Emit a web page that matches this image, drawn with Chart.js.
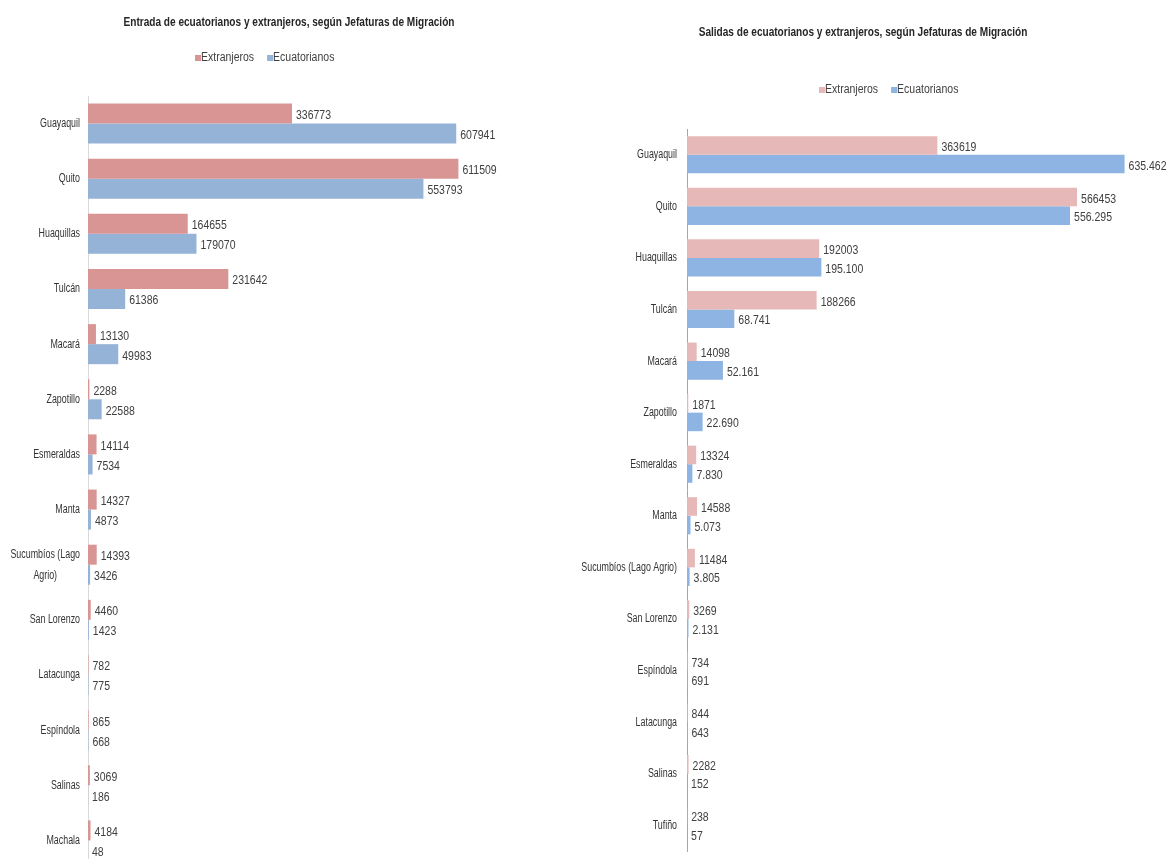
<!DOCTYPE html>
<html lang="es">
<head>
    <meta charset="UTF-8">
    <title>Entradas y salidas por Jefatura de Migración</title>
    <script src="https://cdn.jsdelivr.net/npm/chart.js"></script>
    <style>
        html, body { margin: 0; padding: 0; background: #fff; overflow: hidden; }
        canvas { position: absolute; top: 0; }
        #entradaChart { left: 0; }
        #salidaChart { left: 570px; }
    </style>
</head>
<body>
    <canvas id="entradaChart" width="585" height="870"></canvas>
    <canvas id="salidaChart" width="603" height="870"></canvas>
    <script>
        // Entradas
        var entradaLabels = ['Guayaquil', 'Quito', 'Huaquillas', 'Tulcán', 'Macará', 'Zapotillo', 'Esmeraldas', 'Manta',
            ['Sucumbíos (Lago', 'Agrio)'], 'San Lorenzo', 'Latacunga', 'Espíndola', 'Salinas', 'Machala'];
        var entradaExtranjeros = [336773, 611509, 164655, 231642, 13130, 2288, 14114, 14327, 14393, 4460, 782, 865, 3069, 4184];
        var entradaEcuatorianos = [607941, 553793, 179070, 61386, 49983, 22588, 7534, 4873, 3426, 1423, 775, 668, 186, 48];

        // Salidas
        var salidaLabels = ['Guayaquil', 'Quito', 'Huaquillas', 'Tulcán', 'Macará', 'Zapotillo', 'Esmeraldas', 'Manta',
            'Sucumbíos (Lago Agrio)', 'San Lorenzo', 'Espíndola', 'Latacunga', 'Salinas', 'Tufiño'];
        var salidaExtranjeros = [363619, 566453, 192003, 188266, 14098, 1871, 13324, 14588, 11484, 3269, 734, 844, 2282, 238];
        var salidaEcuatorianos = [635462, 556295, 195100, 68741, 52161, 22690, 7830, 5073, 3805, 2131, 691, 643, 152, 57];

        var xMax = 700000;
        var FONT = '"Liberation Sans", Arial, sans-serif';

        function plain(v) { return String(v); }
        function dotted(v) { return String(v).replace(/\B(?=(\d{3})+(?!\d))/g, '.'); }

        // narrow lettering: normal font squeezed horizontally
        function squeezeText(ctx, text, x, y, sx, align) {
            ctx.save();
            ctx.translate(x, y);
            ctx.scale(sx, 1);
            ctx.textAlign = align;
            ctx.fillText(text, 0, 0);
            ctx.restore();
        }

        // title, legend, category and value labels drawn straight on the canvas
        function decorations(cfg) {
            return {
                id: 'decorations',
                afterDatasetsDraw: function (chart) {
                    var ctx = chart.ctx;
                    ctx.save();
                    ctx.fillStyle = '#404040';
                    ctx.textBaseline = 'middle';

                    // value labels
                    ctx.font = '12.5px ' + FONT;
                    chart.data.datasets.forEach(function (ds, i) {
                        chart.getDatasetMeta(i).data.forEach(function (bar, j) {
                            squeezeText(ctx, cfg.formats[i](ds.data[j]), bar.x + 4, bar.y + 2, 0.84, 'left');
                        });
                    });

                    // category labels
                    var yScale = chart.scales.y;
                    var right = chart.chartArea.left - cfg.labelGap;
                    var sx = 0.71;
                    ctx.fillStyle = '#333333';
                    ctx.font = '12.5px ' + FONT;
                    chart.data.labels.forEach(function (label, i) {
                        var y = yScale.getPixelForTick(i);
                        if (Array.isArray(label)) {
                            var w = Math.max.apply(null, label.map(function (l) { return ctx.measureText(l).width; })) * sx;
                            label.forEach(function (line, k) {
                                squeezeText(ctx, line, right - w / 2, y + (k - (label.length - 1) / 2) * 21, sx, 'center');
                            });
                        } else {
                            squeezeText(ctx, label, right, y, sx, 'right');
                        }
                    });
                    ctx.restore();
                },
                afterDraw: function (chart) {
                    var ctx = chart.ctx;
                    ctx.save();
                    ctx.textBaseline = 'middle';
                    ctx.fillStyle = '#262626';
                    ctx.font = 'bold 13px ' + FONT;
                    squeezeText(ctx, cfg.title, cfg.titleX, cfg.titleY, 0.775, 'center');

                    ctx.font = '12.5px ' + FONT;
                    var x = cfg.legendX;
                    chart.data.datasets.forEach(function (ds) {
                        ctx.fillStyle = ds.backgroundColor;
                        ctx.fillRect(x, cfg.legendY - 3, 6, 6);
                        ctx.fillStyle = '#404040';
                        squeezeText(ctx, ds.label, x + 6, cfg.legendY, 0.84, 'left');
                        x += 6 + ctx.measureText(ds.label).width * 0.84 + 13;
                    });
                    ctx.restore();
                }
            };
        }

        function makeChart(id, cfg) {
            return new Chart(document.getElementById(id), {
                type: 'bar',
                data: {
                    labels: cfg.labels,
                    datasets: [
                        { label: 'Extranjeros', data: cfg.ext, backgroundColor: cfg.colors[0] },
                        { label: 'Ecuatorianos', data: cfg.ecu, backgroundColor: cfg.colors[1] }
                    ]
                },
                options: {
                    indexAxis: 'y',
                    responsive: false,
                    animation: false,
                    categoryPercentage: cfg.catPct,
                    barPercentage: 1.0,
                    layout: { padding: cfg.padding },
                    plugins: {
                        legend: { display: false },
                        title: { display: false },
                        tooltip: { enabled: false }
                    },
                    scales: {
                        x: { display: false, min: 0, max: xMax },
                        y: {
                            afterFit: function (scale) { scale.width = cfg.axisWidth; },
                            grid: { display: false, drawTicks: false },
                            border: { display: true, color: cfg.axisColor, width: 1 },
                            ticks: { display: false }
                        }
                    }
                },
                plugins: [decorations(cfg)]
            });
        }

        makeChart('entradaChart', {
            labels: entradaLabels,
            ext: entradaExtranjeros,
            ecu: entradaEcuatorianos,
            colors: ['#d99594', '#95b3d7'],
            formats: [plain, plain],
            catPct: 0.726,
            axisWidth: 88,
            axisColor: '#d9d9d9',
            labelGap: 8,
            padding: { left: 0, right: 73, top: 96, bottom: 2 },
            title: 'Entrada de ecuatorianos y extranjeros, según Jefaturas de Migración',
            titleX: 289, titleY: 22,
            legendX: 195, legendY: 58
        });

        makeChart('salidaChart', {
            labels: salidaLabels,
            ext: salidaExtranjeros,
            ecu: salidaEcuatorianos,
            colors: ['#e6b9b8', '#8db4e2'],
            formats: [plain, dotted],
            catPct: 0.72,
            axisWidth: 117,
            axisColor: '#a6a6a6',
            labelGap: 10,
            padding: { left: 0, right: 4, top: 129, bottom: 19 },
            title: 'Salidas de ecuatorianos y extranjeros, según Jefaturas de Migración',
            titleX: 293, titleY: 32,
            legendX: 249, legendY: 90
        });
    </script>
</body>
</html>
